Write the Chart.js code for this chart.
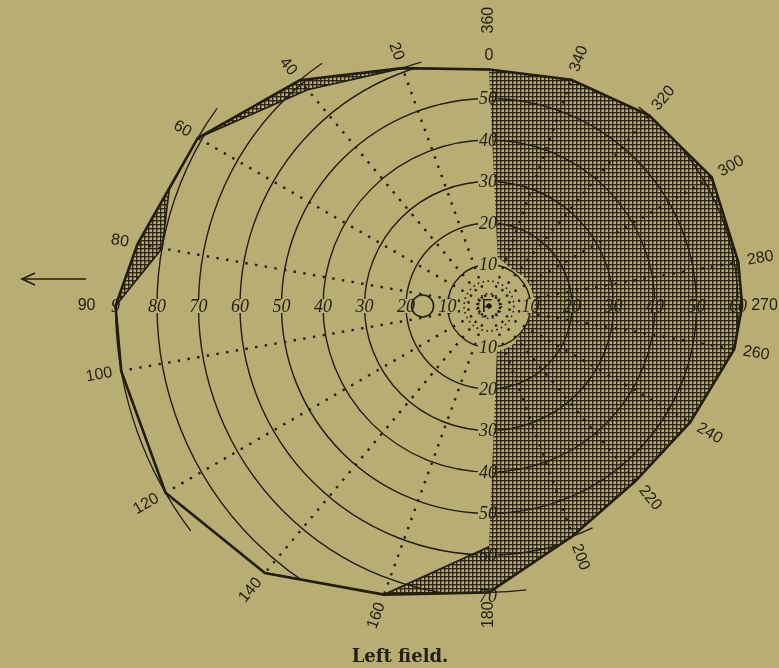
<!DOCTYPE html>
<html>
<head>
<meta charset="utf-8">
<title>Left field</title>
<script src="https://cdn.jsdelivr.net/npm/chart.js@4.4.1/dist/chart.umd.min.js"></script>
<style>
  html, body { margin: 0; padding: 0; background: #b8ad73; }
  #wrap { width: 779px; height: 668px; }
</style>
</head>
<body>
<div id="wrap"><canvas id="field" width="779" height="668"></canvas></div>
<script>
// meridians in the order the radar scale lays them out (clockwise from the top)
const meridians = [0, 350, 340, 330, 320, 310, 300, 290, 280, 270, 260, 250, 240, 230, 220, 210, 200, 190,
  180, 170, 160, 150, 140, 130, 120, 110, 100, 90, 80, 70, 60, 50, 40, 30, 20, 10];

// outer limit of the field, degrees from fixation (null = not charted on that meridian)
const normalField = [57, null, 58, null, 60, null, 62, null, 61, 61, 60, null, 56, null, 55, null, 59, null,
  69, null, 74, null, 84, null, 90, null, 90, 90, 86, null, 81, null, 71, null, 61, null];

// what the eye still sees: temporal half kept, nasal half lost except round the macula
const seenField = [57, 12, 11, 10.5, 10.5, 11, 11, 11, 11, 11, 10.5, 10, 10, 10, 10.5, 11, 11, 11,
  58, null, 74, null, 84, null, 90, null, 90, 90, 80, 82, 81, null, 68, null, 61, null];

const labelledMeridians = [20, 40, 60, 80, 90, 100, 120, 140, 160, 180, 200, 220, 240, 260, 270, 280, 300, 320, 340];

const ringValues = [0, 3, 6, 10, 20, 30, 40, 50, 60, 70, 80];
const leftRing = [10, 20, 30, 40, 50, 60, 70, 80, 90];
const rightRing = [10, 20, 30, 40, 50, 60];
const upperRing = [10, 20, 30, 40, 50];
const lowerRing = [10, 20, 30, 40, 50, 60, 70];

const blindSpot = { meridian: 90, distance: 16 };

// short arcs marked at the limits: meridian span and eccentricity
const limitArcs = [
  { from: 20, to: 15.5, r: 61 },
  { from: 40, to: 34.5, r: 71 },
  { from: 60, to: 54, r: 81 },
  { from: 92, to: 127, r: 90 },
  { from: 180, to: 187.5, r: 69 },
  { from: 200, to: 205, r: 59 },
  { from: 317, to: 323, r: 60 }
];

const BG = '#b8ad73';
const INK = '#231d12';
const CX = 489, CY = 306, PX_PER_DEG = 4.15;

const hatch = (() => {
  const c = document.createElement('canvas');
  c.width = 4; c.height = 4;
  const g = c.getContext('2d');
  g.fillStyle = 'rgba(35,29,18,0.9)';
  g.fillRect(0, 0, 4, 1.4);
  g.fillRect(0, 0, 1.4, 4);
  return g.createPattern(c, 'repeat');
})();

const fieldDecor = {
  id: 'fieldDecor',
  beforeDraw(chart) {
    // keep rings and meridian dots inside the charted limit
    const pts = chart.getDatasetMeta(0).data.filter(p => !p.skip);
    const ctx = chart.ctx;
    ctx.save();
    ctx.beginPath();
    pts.forEach((p, i) => i ? ctx.lineTo(p.x, p.y) : ctx.moveTo(p.x, p.y));
    ctx.closePath();
    ctx.clip();
  },
  beforeDatasetsDraw(chart) {
    const ctx = chart.ctx;
    ctx.restore();
    const r = chart.scales.r;
    const d = v => r.getDistanceFromCenterForValue(v);
    ctx.save();
    ctx.font = 'italic 18px "Liberation Serif"';
    ctx.textAlign = 'center';
    ctx.textBaseline = 'middle';
    const put = (txt, x, y) => {
      const w = ctx.measureText(txt).width;
      ctx.fillStyle = BG;
      ctx.fillRect(x - w / 2 - 1, y - 7, w + 2, 14);
      ctx.fillStyle = INK;
      ctx.fillText(txt, x, y + 1);
    };
    leftRing.forEach(v => put(v === 90 ? '9' : String(v), r.xCenter - d(v), r.yCenter));
    rightRing.forEach(v => put(String(v), r.xCenter + d(v), r.yCenter));
    upperRing.forEach(v => put(String(v), r.xCenter - 1, r.yCenter - d(v)));
    lowerRing.forEach(v => put(String(v), r.xCenter - 1, r.yCenter + d(v)));
    ctx.font = '18px "Liberation Sans"';
    ctx.fillStyle = INK;
    ctx.fillText('F', r.xCenter - 2, r.yCenter + 1);
    ctx.restore();
  },
  afterDatasetsDraw(chart) {
    const ctx = chart.ctx;
    const r = chart.scales.r;
    const inner = chart.getDatasetMeta(1).data;
    ctx.save();
    ctx.strokeStyle = INK;
    ctx.fillStyle = INK;

    // edge of the remaining temporal field
    ctx.lineWidth = 1.6;
    ctx.beginPath();
    let first = true;
    for (let i = 18; i <= 36; i++) {
      const p = inner[i % 36];
      if (p.skip) continue;
      if (first) ctx.moveTo(p.x, p.y); else ctx.lineTo(p.x, p.y);
      first = false;
    }
    ctx.stroke();

    ctx.lineWidth = 1.3;
    limitArcs.forEach(a => {
      const rad = r.getDistanceFromCenterForValue(a.r);
      const c1 = -Math.PI / 2 - a.from * Math.PI / 180;
      const c2 = -Math.PI / 2 - a.to * Math.PI / 180;
      ctx.beginPath();
      ctx.arc(r.xCenter, r.yCenter, rad, Math.min(c1, c2), Math.max(c1, c2));
      ctx.stroke();
    });

    // meridian numbers, written along the radius
    ctx.font = '16px "Liberation Sans"';
    ctx.textAlign = 'center';
    ctx.textBaseline = 'middle';
    labelledMeridians.forEach(m => {
      const i = meridians.indexOf(m);
      const txt = String(m);
      const w = ctx.measureText(txt).width;
      const gap = m === 90 ? 20 : 9;
      const p = r.getPointPosition(i, r.getDistanceFromCenterForValue(normalField[i]) + gap + w / 2);
      let rot = Math.atan2(p.y - r.yCenter, p.x - r.xCenter);
      if (rot > Math.PI / 2 - 0.01) rot -= Math.PI;
      else if (rot < -Math.PI / 2 - 0.01) rot += Math.PI;
      ctx.save();
      ctx.translate(p.x, p.y);
      ctx.rotate(rot);
      ctx.fillText(txt, 0, 0);
      ctx.restore();
    });
    const top = r.getDistanceFromCenterForValue(normalField[0]);
    const p0 = r.getPointPosition(0, top + 14);
    ctx.fillText('0', p0.x, p0.y);
    const w360 = ctx.measureText('360').width;
    const p360 = r.getPointPosition(0, top + 36 + w360 / 2);
    ctx.save();
    ctx.translate(p360.x, p360.y);
    ctx.rotate(-Math.PI / 2);
    ctx.fillText('360', 0, 0);
    ctx.restore();

    // arrow pointing to the temporal side
    ctx.lineWidth = 1.6;
    ctx.beginPath();
    ctx.moveTo(86, r.yCenter - 27);
    ctx.lineTo(22, r.yCenter - 27);
    ctx.stroke();
    ctx.beginPath();
    ctx.moveTo(35, r.yCenter - 33);
    ctx.lineTo(22, r.yCenter - 27);
    ctx.lineTo(35, r.yCenter - 21);
    ctx.stroke();

    ctx.font = 'bold 18px "DejaVu Serif"';
    ctx.fillText('Left field.', 400, 657);
    ctx.restore();
  }
};

new Chart(document.getElementById('field'), {
  type: 'radar',
  data: {
    labels: meridians.map(String),
    datasets: [
      {
        label: 'Normal limits',
        data: normalField,
        order: 3,
        borderColor: INK,
        borderWidth: 2.6,
        backgroundColor: hatch,
        fill: '+1',
        spanGaps: true,
        pointRadius: 0,
        clip: false
      },
      {
        label: 'Seeing field',
        data: seenField,
        order: 2,
        borderColor: 'rgba(0,0,0,0)',
        borderWidth: 0,
        fill: false,
        spanGaps: true,
        pointRadius: 0,
        clip: false
      },
      {
        label: 'Blind spot',
        data: meridians.map(m => m === blindSpot.meridian ? blindSpot.distance : null),
        order: 1,
        showLine: false,
        fill: false,
        pointRadius: 11,
        pointBorderWidth: 1.6,
        pointBorderColor: INK,
        pointBackgroundColor: 'rgba(0,0,0,0)',
        clip: false
      }
    ]
  },
  options: {
    responsive: false,
    animation: false,
    devicePixelRatio: 1,
    layout: { padding: 0 },
    plugins: { legend: { display: false }, tooltip: { enabled: false } },
    scales: {
      r: {
        min: 0,
        max: 90,
        startAngle: 0,
        afterBuildTicks: (s) => { s.ticks = ringValues.map(v => ({ value: v })); },
        afterFit: (s) => {
          s.xCenter = CX;
          s.yCenter = CY;
          s.drawingArea = 90 * PX_PER_DEG;
        },
        ticks: { display: false },
        pointLabels: { display: false },
        grid: {
          circular: true,
          color: INK,
          lineWidth: (c) => (c.tick && c.tick.value < 10 ? 1.6 : 1.4)
        },
        border: {
          dash: (c) => (c.tick && c.tick.value < 10 ? [1.6, 3.4] : [])
        },
        angleLines: {
          color: (c) => {
            const m = meridians[c.index];
            return m % 20 === 0 && m % 180 !== 0 ? INK : 'rgba(0,0,0,0)';
          },
          lineWidth: 2.4,
          borderDash: [2.4, 7.4]
        }
      }
    }
  },
  plugins: [fieldDecor]
});
</script>
</body>
</html>
